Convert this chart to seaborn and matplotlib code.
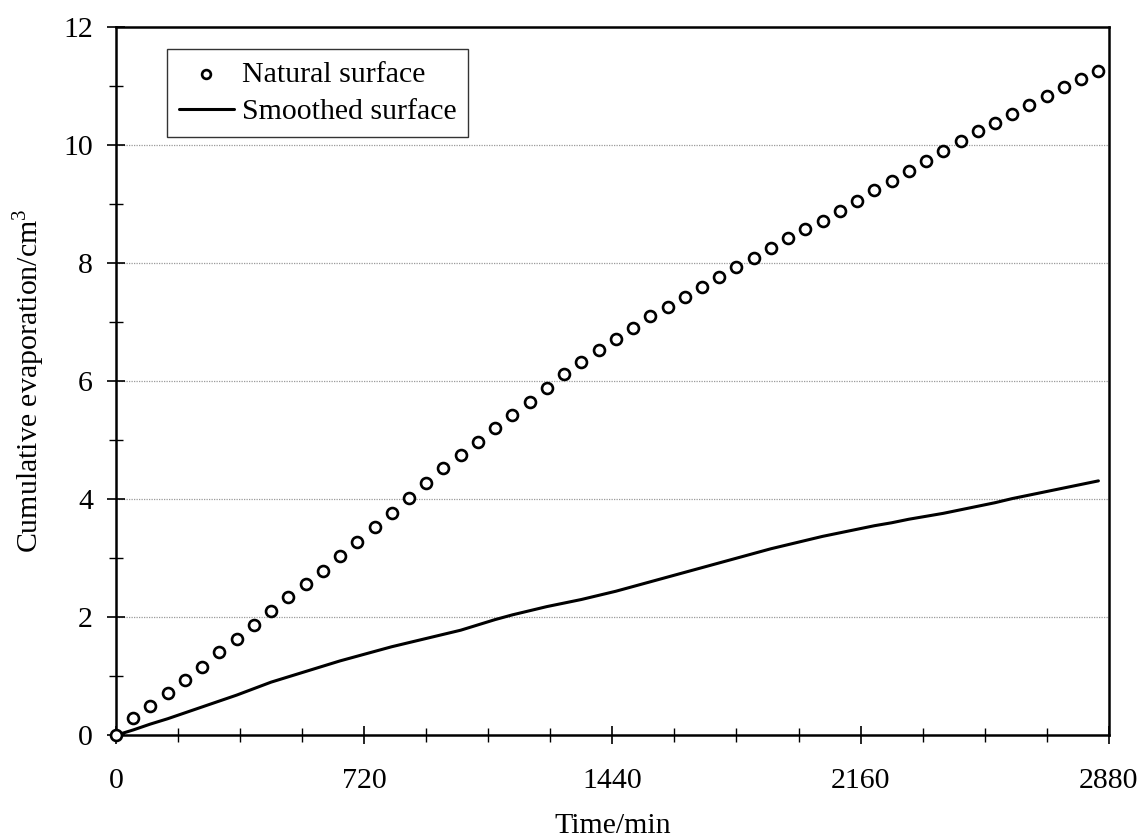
import numpy as np
import pandas as pd
import matplotlib
matplotlib.use("Agg")
import matplotlib.pyplot as plt
from matplotlib.ticker import MultipleLocator
import seaborn as sns

# Elapsed time (min)
time_min = [0, 50, 100, 150, 200, 250, 300, 350, 400, 450, 500, 550, 600, 650,
            700, 750, 800, 850, 900, 950, 1000, 1050, 1100, 1150, 1200, 1250,
            1300, 1350, 1400, 1450, 1500, 1550, 1600, 1650, 1700, 1750, 1800,
            1850, 1900, 1950, 2000, 2050, 2100, 2150, 2200, 2250, 2300, 2350,
            2400, 2450, 2500, 2550, 2600, 2650, 2700, 2750, 2800, 2850]

# Cumulative evaporation (cm^3), natural soil surface
natural = [0.00, 0.29, 0.50, 0.71, 0.94, 1.16, 1.41, 1.63, 1.87, 2.10, 2.34,
           2.57, 2.79, 3.03, 3.28, 3.52, 3.77, 4.02, 4.27, 4.52, 4.75, 4.97,
           5.20, 5.43, 5.65, 5.88, 6.12, 6.33, 6.53, 6.72, 6.90, 7.10, 7.26,
           7.42, 7.59, 7.76, 7.93, 8.08, 8.25, 8.43, 8.57, 8.71, 8.88, 9.05,
           9.23, 9.39, 9.56, 9.73, 9.90, 10.07, 10.23, 10.38, 10.53, 10.68,
           10.83, 10.98, 11.12, 11.26]

# Cumulative evaporation (cm^3), smoothed soil surface
smoothed = [0.00, 0.09, 0.19, 0.28, 0.38, 0.48, 0.58, 0.68, 0.79, 0.90, 0.99,
            1.08, 1.17, 1.26, 1.34, 1.42, 1.50, 1.57, 1.64, 1.71, 1.78, 1.87,
            1.96, 2.04, 2.11, 2.18, 2.24, 2.30, 2.37, 2.44, 2.52, 2.60, 2.68,
            2.76, 2.84, 2.92, 3.00, 3.08, 3.16, 3.23, 3.30, 3.37, 3.43, 3.49,
            3.55, 3.60, 3.66, 3.71, 3.76, 3.82, 3.88, 3.94, 4.01, 4.07, 4.13,
            4.19, 4.25, 4.31]

x_ticks = [0, 720, 1440, 2160, 2880]
y_ticks = [0, 2, 4, 6, 8, 10, 12]

df = pd.DataFrame({"t": time_min, "natural": natural, "smoothed": smoothed})

sns.set_theme(style="ticks")
plt.rcParams["font.family"] = ["Liberation Serif", "DejaVu Serif"]
plt.rcParams["mathtext.fontset"] = "custom"
plt.rcParams["mathtext.rm"] = "Liberation Serif"
plt.rcParams["text.color"] = "black"
plt.rcParams["axes.labelcolor"] = "black"
plt.rcParams["xtick.color"] = "black"
plt.rcParams["ytick.color"] = "black"

FS = 21.5

fig = plt.figure(figsize=(11.46, 8.38), dpi=100)
ax = fig.add_axes([0.1012, 0.1226, 0.8663, 0.8452])

# horizontal reference lines at the major y ticks
for yv in y_ticks[1:-1]:
    ax.axhline(yv, color="#9a9a9a", lw=0.9, ls=(0, (1, 1)), zorder=0)

sns.lineplot(data=df, x="t", y="smoothed", ax=ax, color="black", lw=2.2,
             label="Smoothed surface", zorder=3)
sns.scatterplot(data=df, x="t", y="natural", ax=ax, marker="o", s=62,
                facecolor="white", edgecolor="black", linewidth=1.9,
                label="Natural surface", zorder=4, clip_on=False)

ax.set_xlim(0, 2880)
ax.set_ylim(0, 12)
ax.set_xticks(x_ticks)
ax.set_yticks(y_ticks)
ax.xaxis.set_minor_locator(MultipleLocator(180))
ax.yaxis.set_minor_locator(MultipleLocator(1))

for side in ["left", "right", "top", "bottom"]:
    ax.spines[side].set_visible(True)
    ax.spines[side].set_color("black")
    ax.spines[side].set_linewidth(1.8)

ax.tick_params(axis="both", which="major", direction="inout", length=13,
               width=1.2, labelcolor="black", labelsize=FS, pad=10)
ax.tick_params(axis="both", which="minor", direction="inout", length=10,
               width=1.0)
ax.tick_params(axis="x", which="major", pad=17)

ax.set_xlabel("Time/min", fontsize=FS, labelpad=14, color="black")
ax.set_ylabel("Cumulative evaporation/cm$^3$", fontsize=FS, labelpad=12,
              color="black")

handles, labels = ax.get_legend_handles_labels()
order = [labels.index("Natural surface"), labels.index("Smoothed surface")]
leg = ax.legend([handles[i] for i in order], [labels[i] for i in order],
                loc="upper left", bbox_to_anchor=(0.051, 0.969),
                fontsize=FS, frameon=True, fancybox=False, edgecolor="black",
                handlelength=1.85, handletextpad=0.27, borderpad=0.4,
                labelspacing=0.35, borderaxespad=0)
leg.get_frame().set_linewidth(1.0)
for t in leg.get_texts():
    t.set_color("black")
for h in leg.legend_handles:
    try:
        h.set_sizes([40])
    except AttributeError:
        pass

fig.savefig("out.png", dpi=100, facecolor="white")
